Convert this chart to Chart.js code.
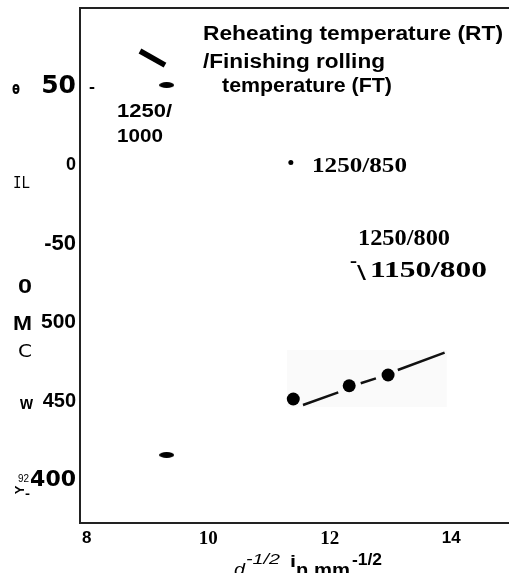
<!DOCTYPE html>
<html><head><meta charset="utf-8">
<script src="https://cdn.jsdelivr.net/npm/chart.js@4/dist/chart.umd.min.js"></script>
<style>html,body{margin:0;padding:0;background:#fff;}canvas{display:block}</style>
</head><body>
<canvas id="c" width="509" height="573"></canvas>
<script>
// ---- data ----
const xTickValues = [8, 10, 12, 14];
const xTickLabels = ['8', '10', '12', '14'];
const yTickValues = [400, 450, 500, 550, 600, 650];
const yTickLabels = ['400', '450', '500', '-50', '0', '50'];
// RT/FT = 1250/1000 (ellipse markers)
const rt1250ft1000 = [{x: 9.316, y: 650.6}, {x: 9.316, y: 415.9}];
// slanted stroke mark above the 1250/1000 point
const slashMark = [{x: 8.877, y: 672.2}, {x: 9.289, y: 663.3}];
// RT/FT = 1250/850 (small bullet)
const rt1250ft850 = [{x: 11.36, y: 601.4}];
// RT/FT = 1250/800 & 1150/800 (large dots)
const rt1250ft800 = [{x: 11.40, y: 451.4}, {x: 12.32, y: 459.8}, {x: 12.96, y: 466.6}];
// broken trend line through the large dots
const trendLine = [
  {x: 11.56, y: 447.6}, {x: 12.14, y: 455.6}, {x: 12.30, y: null},
  {x: 12.51, y: 461.4}, {x: 12.76, y: 464.5}, {x: 12.90, y: null},
  {x: 13.12, y: 469.8}, {x: 13.89, y: 480.8}
];
// faint shaded box behind the trend line
const shadeBox = [{x: 11.294, y: 446.3}, {x: 13.926, y: 482.5}];

// ---- styles ----
const SANS = '"Liberation Sans", Arial, sans-serif';
const SERIF = '"Liberation Serif", "Times New Roman", serif';
const DJ = '"DejaVu Sans", sans-serif';
const xTickFonts = [
  {family: SANS, size: 17, weight: 'bold'},
  {family: SERIF, size: 19, weight: 'bold'},
  {family: SERIF, size: 19, weight: 'bold'},
  {family: SANS, size: 17, weight: 'bold'}
];
const yTickFonts = [
  {family: DJ, size: 22, weight: 'bold'},
  {family: SANS, size: 20, weight: 'bold'},
  {family: SANS, size: 21, weight: 'bold'},
  {family: SANS, size: 22, weight: 'bold'},
  {family: SANS, size: 18, weight: 'bold'},
  {family: DJ, size: 25, weight: 'bold'}
];

const ell = document.createElement('canvas');
ell.width = 15; ell.height = 6;
(function(){const e = ell.getContext('2d'); e.fillStyle = '#000'; e.beginPath(); e.ellipse(7.5, 3, 7.5, 3, 0, 0, Math.PI * 2); e.fill();})();

function txt(ctx, s, x, y, font, w) {
  ctx.save();
  ctx.font = font; ctx.fillStyle = '#000';
  ctx.textBaseline = 'alphabetic'; ctx.textAlign = 'left';
  const m = ctx.measureText(s).width;
  ctx.translate(x, y);
  if (w) ctx.scale(w / m, 1);
  ctx.fillText(s, 0, 0);
  ctx.restore();
}

const texts = [
  ['Reheating temperature (RT)', 203, 40, 'bold 20px ' + SANS, 300],
  ['/Finishing rolling', 203, 68, 'bold 20px ' + SANS, 182],
  ['temperature (FT)', 222, 92, 'bold 20px ' + SANS, 170],
  ['1250/', 117, 117, 'bold 19px ' + SANS, 55],
  ['1000', 117, 142, 'bold 19px ' + SANS, 46],
  ['1250/850', 312, 172, 'bold 22px ' + SERIF, 95],
  ['1250/800', 358, 245, 'bold 24px ' + SERIF, 92],
  ['1150/800', 370, 277, 'bold 24px ' + SERIF, 117],
  ['\u02C9', 349, 276, 'bold 20px ' + DJ, 9],
  ['\\', 357, 280, '20px ' + SANS, 9],
  ['-', 89, 92, 'bold 16px ' + SANS, 6],
  ['\u0275', 12, 94, 'bold 17px ' + DJ, 8],
  ['IL', 13, 188, '15px "DejaVu Sans Mono", monospace', 17],
  ['0', 18, 293, 'bold 20px ' + SANS, 14],
  ['M', 13, 330, 'bold 20px ' + SANS, 19],
  ['C', 18, 357, '18px ' + DJ, 14],
  ['w', 20, 409, 'bold 19px ' + SANS, 13],
  ['92', 18, 482, '11px ' + SANS, 11],
  ['-', 25, 498, 'bold 13px ' + SANS, 5],
  ['d', 234, 575, 'italic 17px ' + SANS, 11],
  ['-1/2', 246, 564, 'italic 14px ' + SANS, 34],
  ['i', 290, 567, 'bold 16px ' + SANS, 6],
  ['n mm', 296, 576, 'bold 18px ' + SANS, 54],
  ['-1/2', 352, 565, 'bold 17px ' + SANS, 30]
];

const decor = {
  id: 'decor',
  beforeDatasetsDraw(chart) {
    const {ctx, scales: {x, y}} = chart;
    const x0 = x.getPixelForValue(shadeBox[0].x), x1 = x.getPixelForValue(shadeBox[1].x);
    const y0 = y.getPixelForValue(shadeBox[1].y), y1 = y.getPixelForValue(shadeBox[0].y);
    ctx.save(); ctx.fillStyle = '#fafafa'; ctx.fillRect(x0, y0, x1 - x0, y1 - y0); ctx.restore();
  },
  afterDraw(chart) {
    const {ctx, chartArea} = chart;
    ctx.save();
    ctx.strokeStyle = '#222'; ctx.lineWidth = 2;
    ctx.beginPath(); ctx.moveTo(chartArea.left - 1, chartArea.top); ctx.lineTo(chartArea.right, chartArea.top); ctx.stroke();
    ctx.restore();
    texts.forEach(t => txt(ctx, t[0], t[1], t[2], t[3], t[4]));
    ctx.save();
    ctx.font = 'bold 13px ' + SANS; ctx.fillStyle = '#000';
    ctx.translate(20, 490); ctx.rotate(-Math.PI / 2);
    ctx.textAlign = 'center'; ctx.textBaseline = 'middle';
    ctx.fillText('Y', 0, 0);
    ctx.restore();
  }
};

new Chart(document.getElementById('c'), {
  type: 'scatter',
  data: {
    datasets: [
      {type: 'line', data: slashMark, borderColor: '#000', borderWidth: 5.5, borderCapStyle: 'butt', pointRadius: 0, pointHoverRadius: 0},
      {data: rt1250ft1000, pointStyle: ell, pointRadius: 7},
      {type: 'line', data: trendLine, borderColor: '#111', borderWidth: 2.5, pointRadius: 0, pointHoverRadius: 0, spanGaps: false},
      {data: rt1250ft850, pointRadius: 2.5, backgroundColor: '#000', borderWidth: 0},
      {data: rt1250ft800, pointRadius: 6.5, backgroundColor: '#000', borderWidth: 0}
    ]
  },
  options: {
    responsive: false, animation: false, devicePixelRatio: 1,
    layout: {autoPadding: false, padding: {top: 8, left: 0, right: 0, bottom: 0}},
    plugins: {legend: {display: false}, tooltip: {enabled: false}},
    scales: {
      x: {
        type: 'linear', min: 7.89, max: 14.95,
        afterBuildTicks: s => { s.ticks = xTickValues.map(v => ({value: v})); },
        afterFit: s => { s.height = 50; s.paddingLeft = 0; s.paddingRight = 0; },
        ticks: {callback: (v, i) => xTickLabels[i], font: c => xTickFonts[c.index], color: '#000', padding: 5, autoSkip: false, maxRotation: 0},
        grid: {display: false, drawTicks: false, tickLength: 0},
        border: {display: true, color: '#222', width: 2}
      },
      y: {
        type: 'linear', min: 372.7, max: 699.5,
        afterBuildTicks: s => { s.ticks = yTickValues.map(v => ({value: v})); },
        afterFit: s => { s.width = 80; s.paddingTop = 0; s.paddingBottom = 0; },
        ticks: {callback: (v, i) => yTickLabels[i], font: c => yTickFonts[c.index], color: '#000', padding: 4, autoSkip: false},
        grid: {display: false, drawTicks: false, tickLength: 0},
        border: {display: true, color: '#222', width: 2}
      }
    }
  },
  plugins: [decor]
});
</script>
</body></html>
